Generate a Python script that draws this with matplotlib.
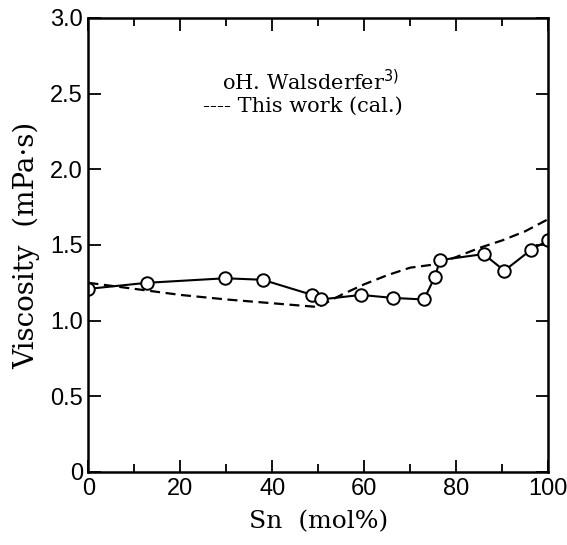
import matplotlib
matplotlib.use('Agg')
import matplotlib.pyplot as plt
from matplotlib.ticker import MultipleLocator

# measured (H. Walsderfer)
sn_meas = [0, 12.7, 29.8, 37.9, 48.7, 50.6, 59.3, 66.3, 73.0, 75.4, 76.5, 86.0, 90.5, 96.4, 100]
visc_meas = [1.21, 1.25, 1.28, 1.27, 1.17, 1.14, 1.17, 1.15, 1.14, 1.29, 1.40, 1.44, 1.33, 1.47, 1.53]

# this work (calculated)
sn_cal = [0, 10, 20, 30, 40, 50, 55, 60, 65, 70, 75, 80, 85, 90, 95, 100]
visc_cal = [1.25, 1.21, 1.17, 1.14, 1.115, 1.09, 1.17, 1.24, 1.30, 1.35, 1.37, 1.42, 1.48, 1.53, 1.59, 1.67]

legend_lines = ['oH. Walsderfer$^{3)}$', '---- This work (cal.)']

tick_font = ['Liberation Sans', 'DejaVu Sans']
label_font = ['DejaVu Serif']

fig = plt.figure(figsize=(5.67, 5.45), dpi=100)
ax = fig.add_axes([0.156, 0.134, 0.8105, 0.833])

ax.plot(sn_cal, visc_cal, color='black', lw=1.6, dashes=(4.5, 2.5))
ax.plot(sn_meas, visc_meas, color='black', lw=1.5, marker='o', ms=9,
        mfc='white', mec='black', mew=1.4)

ax.set_xlim(0, 100)
ax.set_ylim(0, 3.0)
ax.xaxis.set_major_locator(MultipleLocator(20))
ax.xaxis.set_minor_locator(MultipleLocator(10))
ax.set_yticks([0, 0.5, 1.0, 1.5, 2.0, 2.5, 3.0])
ax.set_yticklabels(['0', '0.5', '1.0', '1.5', '2.0', '2.5', '3.0'])

ax.tick_params(which='both', direction='in', top=True, right=True, width=1.3)
ax.tick_params(which='major', length=9, pad=4)
ax.tick_params(which='minor', length=6)
for lab in ax.get_xticklabels() + ax.get_yticklabels():
    lab.set_family(tick_font)
    lab.set_fontsize(17)
for s in ax.spines.values():
    s.set_linewidth(1.8)

ax.set_xlabel('Sn  (mol%)', family=label_font, fontsize=18, labelpad=8)
ax.set_ylabel('Viscosity  (mPa\u00b7s)', family=label_font, fontsize=20, labelpad=7)

ax.text(0.29, 0.86, legend_lines[0], transform=ax.transAxes, family=label_font,
        fontsize=15, va='center')
ax.text(0.25, 0.805, legend_lines[1], transform=ax.transAxes, family=label_font,
        fontsize=15, va='center')

fig.savefig('out.png', dpi=100)
